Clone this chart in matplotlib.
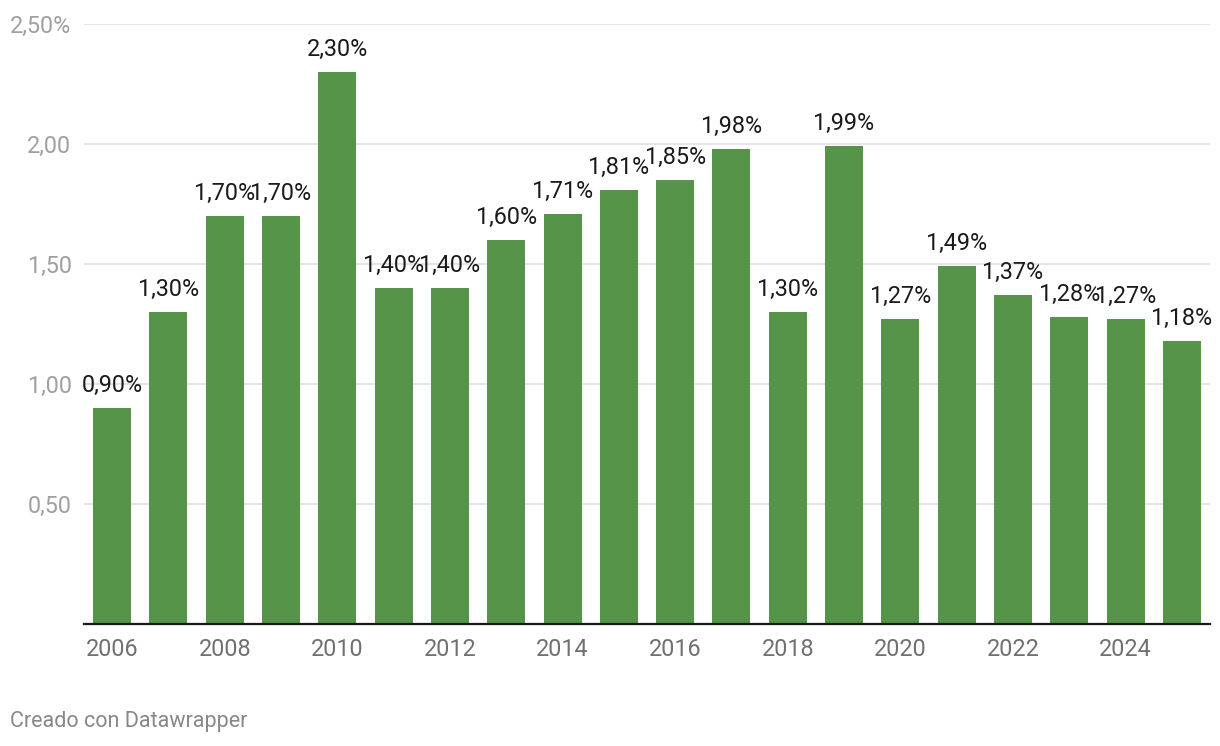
import matplotlib.pyplot as plt

years = list(range(2006, 2026))
values = [0.90, 1.30, 1.70, 1.70, 2.30, 1.40, 1.40, 1.60, 1.71, 1.81,
          1.85, 1.98, 1.30, 1.99, 1.27, 1.49, 1.37, 1.28, 1.27, 1.18]
yticks = [0.5, 1.0, 1.5, 2.0, 2.5]
ytick_labels = ['0,50', '1,00', '1,50', '2,00', '2,50%']

plt.rcParams['font.family'] = ['Roboto', 'DejaVu Sans']

fig = plt.figure(figsize=(12.2, 7.46), dpi=100)
ax = fig.add_axes([84/1220, 122/746, (1210-84)/1220, 600/746])

x = list(range(len(years)))
ax.bar(x, values, width=0.675, color='#56944a', zorder=2)

for xi, v in zip(x, values):
    ax.annotate(f'{v:.2f}%'.replace('.', ','), (xi, v), xytext=(0, 8),
                textcoords='offset points', ha='center', va='bottom',
                fontsize=16.8, color='#1a1a1a')

ax.set_xlim(-0.5, 19.5)
ax.set_ylim(0, 2.5)
ax.set_yticks(yticks)
ax.set_yticklabels(ytick_labels)
ax.set_xticks(x[::2])
ax.set_xticklabels([str(y) for y in years[::2]])
ax.grid(axis='y', color='#e3e3e3', linewidth=1.3, zorder=0)
ax.tick_params(axis='y', length=0, pad=9, labelsize=16.8, labelcolor='#a0a0a0')
ax.tick_params(axis='x', length=0, pad=10, labelsize=16.8, labelcolor='#707070')
for s in ['top', 'right', 'left']:
    ax.spines[s].set_visible(False)
ax.spines['bottom'].set_color('#1a1a1a')
ax.spines['bottom'].set_linewidth(1.6)
ax.spines['bottom'].set_zorder(3)

fig.text(10/1220, 1 - 722/746, 'Creado con Datawrapper', fontsize=15.5,
         color='#888888', ha='left', va='center')

fig.savefig('out.png', dpi=100)
